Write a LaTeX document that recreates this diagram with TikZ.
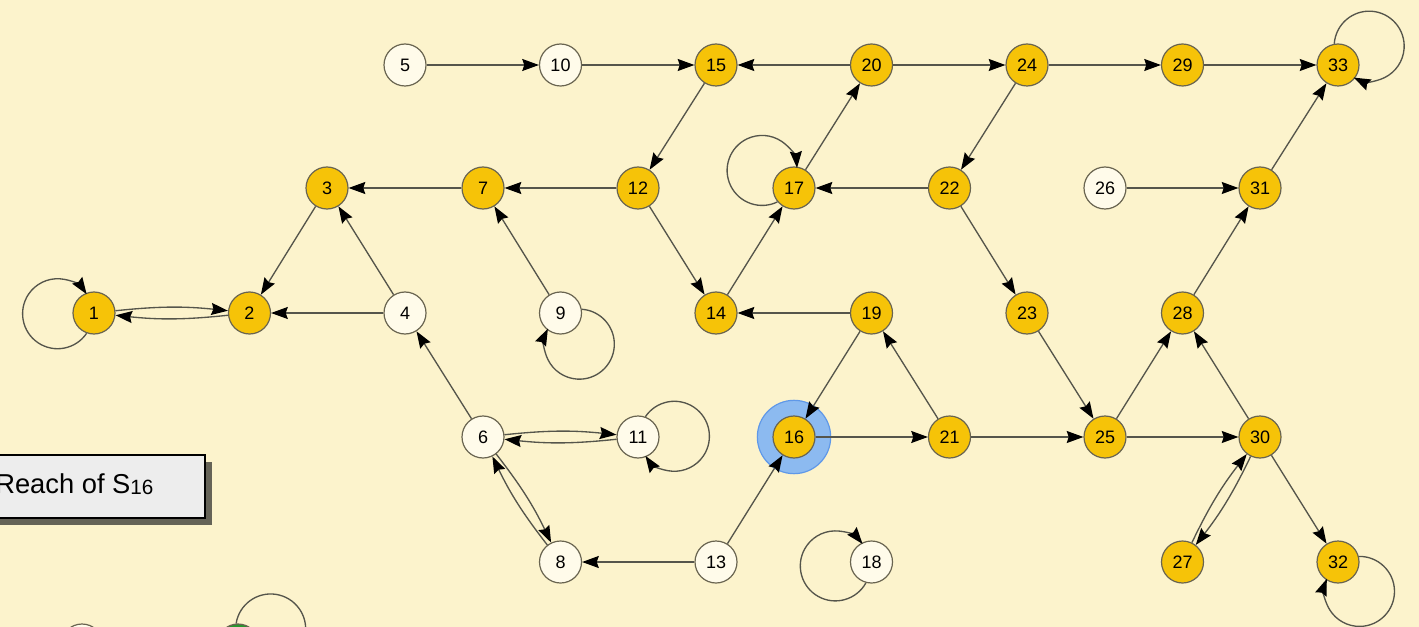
\documentclass[tikz,border=0pt]{standalone}
\usepackage{fontspec}
\setmainfont{Liberation Sans}
\usetikzlibrary{arrows.meta,shadows}

\definecolor{paper}{RGB}{252,243,204}
\definecolor{gold}{RGB}{246,195,8}
\definecolor{rim}{RGB}{105,100,80}
\definecolor{wire}{RGB}{85,85,75}
\definecolor{chalk}{RGB}{255,251,234}
\definecolor{halo}{RGB}{140,186,240}
\definecolor{haloedge}{RGB}{95,152,232}
\definecolor{leaf}{RGB}{40,150,45}
\definecolor{panel}{RGB}{237,237,237}

\tikzset{
  state/.style={circle,draw=rim,line width=0.9pt,minimum size=31.5pt,inner sep=0pt,
    font=\fontsize{13.5}{15}\selectfont},
  reached/.style={state,fill=gold},
  unreached/.style={state,fill=chalk},
  edge/.style={draw=wire,line width=1pt,-{Stealth[length=12.5pt,width=9pt,inset=1.5pt,color=black]}},
  twin/.style={edge,bend left=6},
}
% self loop: circle of radius 35 whose centre sits 36 out from the state
\newcommand{\selfloop}[2]{%
  \draw[edge] (#1.\fpeval{#2+70}) arc[start angle=\fpeval{#2+146},end angle=\fpeval{#2-146},radius=26.25pt];}

\begin{document}
\begin{tikzpicture}[x=0.75pt,y=0.75pt]
\clip (0,0) rectangle (1419,-627);
\fill[paper] (0,0) rectangle (1419,-627);

% highlight ring behind the start state
\node[circle,fill=halo,draw=haloedge,line width=0.9pt,minimum size=55pt] (ring) at (794,-437) {};

% states, row by row
\node[unreached] (s5) at (405,-65) {5};
\node[unreached] (s10) at (560.5,-65) {10};
\node[reached] (s15) at (716,-65) {15};
\node[reached] (s20) at (871.5,-65) {20};
\node[reached] (s24) at (1027,-65) {24};
\node[reached] (s29) at (1182.5,-65) {29};
\node[reached] (s33) at (1338,-65) {33};

\node[reached] (s3) at (327,-188) {3};
\node[reached] (s7) at (483,-188) {7};
\node[reached] (s12) at (638,-188) {12};
\node[reached] (s17) at (794,-188) {17};
\node[reached] (s22) at (949.5,-188) {22};
\node[unreached] (s26) at (1105,-188) {26};
\node[reached] (s31) at (1260,-188) {31};

\node[reached] (s1) at (94,-313) {1};
\node[reached] (s2) at (249.5,-313) {2};
\node[unreached] (s4) at (405,-313) {4};
\node[unreached] (s9) at (560.5,-313) {9};
\node[reached] (s14) at (716,-313) {14};
\node[reached] (s19) at (871.5,-313) {19};
\node[reached] (s23) at (1027,-313) {23};
\node[reached] (s28) at (1182.5,-313) {28};

\node[unreached] (s6) at (483,-437) {6};
\node[unreached] (s11) at (638,-437) {11};
\node[reached] (s16) at (794,-437) {16};
\node[reached] (s21) at (949.5,-437) {21};
\node[reached] (s25) at (1105,-437) {25};
\node[reached] (s30) at (1260,-437) {30};

\node[unreached] (s8) at (560.5,-562) {8};
\node[unreached] (s13) at (716,-562) {13};
\node[unreached] (s18) at (871.5,-562) {18};
\node[reached] (s27) at (1182.5,-562) {27};
\node[reached] (s32) at (1338,-562) {32};

% next component, cut by the lower edge
\node[unreached] (sa) at (82,-645) {};
\node[state,fill=leaf] (sb) at (238,-645) {};

% transitions
\draw[edge] (s5) -- (s10);
\draw[edge] (s10) -- (s15);
\draw[edge] (s20) -- (s15);
\draw[edge] (s20) -- (s24);
\draw[edge] (s24) -- (s29);
\draw[edge] (s29) -- (s33);
\draw[edge] (s15) -- (s12);
\draw[edge] (s12) -- (s7);
\draw[edge] (s7) -- (s3);
\draw[edge] (s3) -- (s2);
\draw[edge] (s4) -- (s3);
\draw[edge] (s4) -- (s2);
\draw[edge] (s9) -- (s7);
\draw[edge] (s12) -- (s14);
\draw[edge] (s14) -- (s17);
\draw[edge] (s17) -- (s20);
\draw[edge] (s22) -- (s17);
\draw[edge] (s24) -- (s22);
\draw[edge] (s22) -- (s23);
\draw[edge] (s26) -- (s31);
\draw[edge] (s31) -- (s33);
\draw[edge] (s28) -- (s31);
\draw[edge] (s25) -- (s28);
\draw[edge] (s30) -- (s28);
\draw[edge] (s23) -- (s25);
\draw[edge] (s21) -- (s25);
\draw[edge] (s25) -- (s30);
\draw[edge] (s21) -- (s19);
\draw[edge] (s19) -- (s14);
\draw[edge] (s19) -- (s16);
\draw[edge] (s16) -- (s21);
\draw[edge] (s13) -- (s16);
\draw[edge] (s13) -- (s8);
\draw[edge] (s6) -- (s4);
\draw[edge] (s30) -- (s32);

% both ways
\draw[twin] (s1) to (s2);
\draw[twin] (s2) to (s1);
\draw[twin] (s6) to (s11);
\draw[twin] (s11) to (s6);
\draw[twin] (s6) to (s8);
\draw[twin] (s8) to (s6);
\draw[twin] (s27) to (s30);
\draw[twin] (s30) to (s27);

% self loops (state, direction of the loop)
\selfloop{s1}{180}
\selfloop{s9}{-60}
\selfloop{s11}{0}
\selfloop{s17}{150}
\selfloop{s18}{185}
\selfloop{s33}{30}
\selfloop{s32}{-55}
\selfloop{sb}{25}

% caption box
\node[rectangle,draw=black,line width=1.1pt,fill=panel,minimum width=195pt,minimum height=47pt,
  drop shadow={shadow xshift=5pt,shadow yshift=-5pt,fill=black!85,opacity=0.7}] (legend) at (75,-486.5) {};
\node[anchor=base west,inner sep=0pt,font=\fontsize{20.5}{24}\selectfont] (legendtext) at (-5,-493)
  {Reach of S\raisebox{-1pt}{\fontsize{15.5}{18}\selectfont 16}};
\end{tikzpicture}
\end{document}
